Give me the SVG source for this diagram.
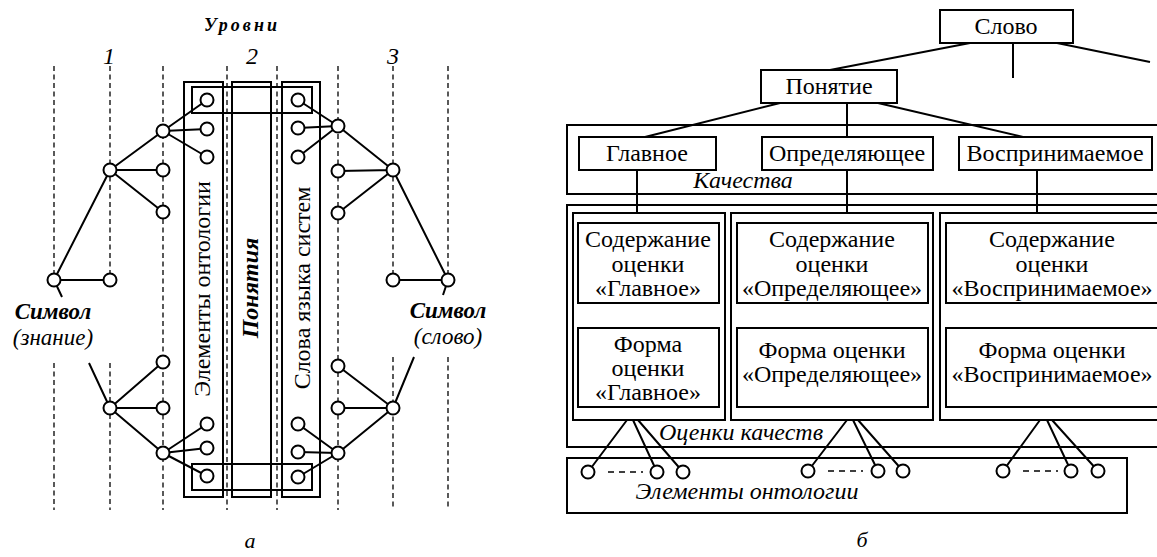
<svg xmlns="http://www.w3.org/2000/svg" width="1157" height="557" viewBox="0 0 1157 557" font-family="'Liberation Serif', 'DejaVu Serif', serif">
<style>
text{font-family:'Liberation Serif','DejaVu Serif',serif;fill:#000}
.t{font-size:24px;text-anchor:middle}
.it{font-style:italic}
.bi{font-style:italic;font-weight:bold}
.box{fill:none;stroke:#000;stroke-width:2}
.ln{fill:none;stroke:#000;stroke-width:2}
.dash{fill:none;stroke:#000;stroke-width:1.3;stroke-dasharray:5 3.5}
.nd{fill:#fff;stroke:#000;stroke-width:2}
.dd{fill:none;stroke:#000;stroke-width:1.3;stroke-dasharray:6 5 6 5 6 5 2}
</style>
<rect width="1157" height="557" fill="#fff"/>

<!-- ===== Panel a ===== -->
<g id="levels">
<text x="242" y="31" class="bi" style="font-size:18px;text-anchor:middle;letter-spacing:3px">Уровни</text>
<text x="109" y="64" class="t it">1</text>
<text x="252" y="64" class="t it">2</text>
<text x="393" y="64" class="t it">3</text>
<path class="dash" d="M54 66V280M54 363V510M110 66V280M110 363V510M163 66V510M227 66V510M277 66V510M338 66V510M393 66V280M393 357V510M448 66V280M448 357V510"/>
</g>

<g id="box-ontology-elements">
<rect class="box" x="184" y="82" width="39" height="415"/>
<text class="t" transform="translate(210,289) rotate(-90)">Элементы онтологии</text>
</g>
<g id="box-concepts">
<rect class="box" x="232" y="82" width="39" height="415"/>
<text class="t bi" transform="translate(258,288) rotate(-90)">Понятия</text>
</g>
<g id="box-words">
<rect class="box" x="282" y="82" width="38" height="415"/>
<text class="t" transform="translate(310,288) rotate(-90)">Слова языка систем</text>
</g>
<g id="band-top"><rect class="box" x="192" y="87" width="120" height="26"/></g>
<g id="band-bottom"><rect class="box" x="192" y="464" width="120" height="26"/></g>

<g id="label-symbol-knowledge">
<text x="53" y="319" class="t bi" style="font-size:23px">Символ</text>
<text x="53" y="345" class="t it" style="font-size:23px">(знание)</text>
</g>
<g id="label-symbol-word">
<text x="448" y="318" class="t bi" style="font-size:23px">Символ</text>
<text x="448" y="344" class="t it" style="font-size:23px">(слово)</text>
</g>

<g id="connectors-a">
<path class="ln" d="M163 131L207 100M163 131L207 129M163 131L207 157M110 170L163 131M110 170L163 170M110 170L163 212M54 280L110 170M54 280L110 280M54 280L62 297"/>
<path class="ln" d="M89 363L110 408M110 408L163 362M110 408L163 408M110 408L163 453M163 453L207 424M163 453L207 448M163 453L207 476"/>
<path class="ln" d="M338 126L298 100M338 126L298 128M338 126L298 157M393 170L338 126M393 170L338 171M393 170L338 213M448 280L393 170M393 280L448 280M448 280L443 295"/>
<path class="ln" d="M414 357L393 408M393 408L338 366M393 408L338 408M393 408L338 453M338 453L298 424M338 453L298 452M338 453L298 477"/>
</g>

<g id="nodes-a">
<circle id="nL1" class="nd" cx="207" cy="100" r="6.5"/>
<circle id="nL2" class="nd" cx="207" cy="129" r="6.5"/>
<circle id="nL3" class="nd" cx="207" cy="157" r="6.5"/>
<circle id="nL4" class="nd" cx="163" cy="131" r="6.5"/>
<circle id="nL5" class="nd" cx="110" cy="170" r="6.5"/>
<circle id="nL6" class="nd" cx="163" cy="170" r="6.5"/>
<circle id="nL7" class="nd" cx="163" cy="212" r="6.5"/>
<circle id="nL8" class="nd" cx="54" cy="280" r="6.5"/>
<circle id="nL9" class="nd" cx="110" cy="280" r="6.5"/>
<circle id="nL10" class="nd" cx="163" cy="362" r="6.5"/>
<circle id="nL11" class="nd" cx="110" cy="408" r="6.5"/>
<circle id="nL12" class="nd" cx="163" cy="408" r="6.5"/>
<circle id="nL13" class="nd" cx="163" cy="453" r="6.5"/>
<circle id="nL14" class="nd" cx="207" cy="424" r="6.5"/>
<circle id="nL15" class="nd" cx="207" cy="448" r="6.5"/>
<circle id="nL16" class="nd" cx="207" cy="476" r="6.5"/>
<circle id="nR1" class="nd" cx="298" cy="100" r="6.5"/>
<circle id="nR2" class="nd" cx="298" cy="128" r="6.5"/>
<circle id="nR3" class="nd" cx="298" cy="157" r="6.5"/>
<circle id="nR4" class="nd" cx="338" cy="126" r="6.5"/>
<circle id="nR5" class="nd" cx="393" cy="170" r="6.5"/>
<circle id="nR6" class="nd" cx="338" cy="171" r="6.5"/>
<circle id="nR7" class="nd" cx="338" cy="213" r="6.5"/>
<circle id="nR8" class="nd" cx="448" cy="280" r="6.5"/>
<circle id="nR9" class="nd" cx="393" cy="280" r="6.5"/>
<circle id="nR10" class="nd" cx="338" cy="366" r="6.5"/>
<circle id="nR11" class="nd" cx="393" cy="408" r="6.5"/>
<circle id="nR12" class="nd" cx="338" cy="408" r="6.5"/>
<circle id="nR13" class="nd" cx="338" cy="453" r="6.5"/>
<circle id="nR14" class="nd" cx="298" cy="424" r="6.5"/>
<circle id="nR15" class="nd" cx="298" cy="452" r="6.5"/>
<circle id="nR16" class="nd" cx="298" cy="477" r="6.5"/>
</g>
<text x="250" y="548" class="t it" style="font-size:22px">а</text>

<!-- ===== Panel b ===== -->
<g id="connectors-b">
<path class="ln" d="M970 43L830 70M1013 43V78M1057 43L1150 62"/>
<path class="ln" d="M780 103L645 137M847 103V137M878 103L1023 137"/>
<path class="ln" d="M637 170V213M847 170V213M1037 170V213"/>
<path class="ln" d="M627 420L588 472M633 420L657 472M638 420L683 472"/>
<path class="ln" d="M847 420L808 471M853 420L878 471M858 420L903 471"/>
<path class="ln" d="M1040 420L1003 471M1047 420L1071 471M1052 420L1098 471"/>
</g>

<g id="qualities">
<rect class="box" x="567" y="125" width="600" height="69"/>
<text x="743" y="188" class="t it">Качества</text>
</g>
<g id="evaluations">
<rect class="box" x="567" y="205" width="600" height="242"/>
<text x="741" y="440" class="t it">Оценки качеств</text>
</g>
<g id="col-main"><rect class="box" x="573" y="213" width="152" height="207"/></g>
<g id="col-defining"><rect class="box" x="731" y="213" width="202" height="207"/></g>
<g id="col-perceived"><rect class="box" x="940" y="213" width="230" height="207"/></g>

<g id="node-slovo">
<rect class="box" x="940" y="10" width="133" height="33"/>
<text x="1006" y="34" class="t">Слово</text>
</g>
<g id="node-ponyatie">
<rect class="box" x="761" y="70" width="136" height="33"/>
<text x="829" y="94" class="t">Понятие</text>
</g>
<g id="node-glavnoe">
<rect class="box" x="579" y="137" width="137" height="33"/>
<text x="647" y="161" class="t">Главное</text>
</g>
<g id="node-opredelyayushchee">
<rect class="box" x="762" y="137" width="171" height="33"/>
<text x="847" y="161" class="t">Определяющее</text>
</g>
<g id="node-vosprinimaemoe">
<rect class="box" x="959" y="137" width="193" height="33"/>
<text x="1055" y="161" class="t">Воспринимаемое</text>
</g>

<g id="node-content-main">
<rect class="box" x="578" y="223" width="141" height="80"/>
<text class="t"><tspan x="648" y="247">Содержание</tspan><tspan x="648" y="272">оценки</tspan><tspan x="648" y="296">«Главное»</tspan></text>
</g>
<g id="node-form-main">
<rect class="box" x="578" y="328" width="141" height="79"/>
<text class="t"><tspan x="648" y="352">Форма</tspan><tspan x="648" y="376">оценки</tspan><tspan x="648" y="400">«Главное»</tspan></text>
</g>
<g id="node-content-defining">
<rect class="box" x="737" y="223" width="191" height="80"/>
<text class="t"><tspan x="832" y="247">Содержание</tspan><tspan x="832" y="272">оценки</tspan><tspan x="832" y="296">«Определяющее»</tspan></text>
</g>
<g id="node-form-defining">
<rect class="box" x="737" y="328" width="191" height="79"/>
<text class="t"><tspan x="832" y="358">Форма оценки</tspan><tspan x="832" y="382">«Определяющее»</tspan></text>
</g>
<g id="node-content-perceived">
<rect class="box" x="946" y="223" width="220" height="80"/>
<text class="t"><tspan x="1052" y="247">Содержание</tspan><tspan x="1052" y="272">оценки</tspan><tspan x="1052" y="296">«Воспринимаемое»</tspan></text>
</g>
<g id="node-form-perceived">
<rect class="box" x="946" y="328" width="220" height="79"/>
<text class="t"><tspan x="1052" y="358">Форма оценки</tspan><tspan x="1052" y="382">«Воспринимаемое»</tspan></text>
</g>

<g id="ontology-elements">
<rect class="box" x="567" y="458" width="560" height="55"/>
<text x="747" y="499" class="t it">Элементы онтологии</text>
<path class="dd" d="M608 472H643M828 471H863M1023 471H1058"/>
<circle class="nd" cx="588" cy="472" r="6.5"/>
<circle class="nd" cx="657" cy="472" r="6.5"/>
<circle class="nd" cx="683" cy="472" r="6.5"/>
<circle class="nd" cx="808" cy="471" r="6.5"/>
<circle class="nd" cx="878" cy="471" r="6.5"/>
<circle class="nd" cx="903" cy="471" r="6.5"/>
<circle class="nd" cx="1003" cy="471" r="6.5"/>
<circle class="nd" cx="1071" cy="471" r="6.5"/>
<circle class="nd" cx="1098" cy="471" r="6.5"/>
</g>
<text x="862" y="547" class="t it" style="font-size:22px">б</text>
</svg>
